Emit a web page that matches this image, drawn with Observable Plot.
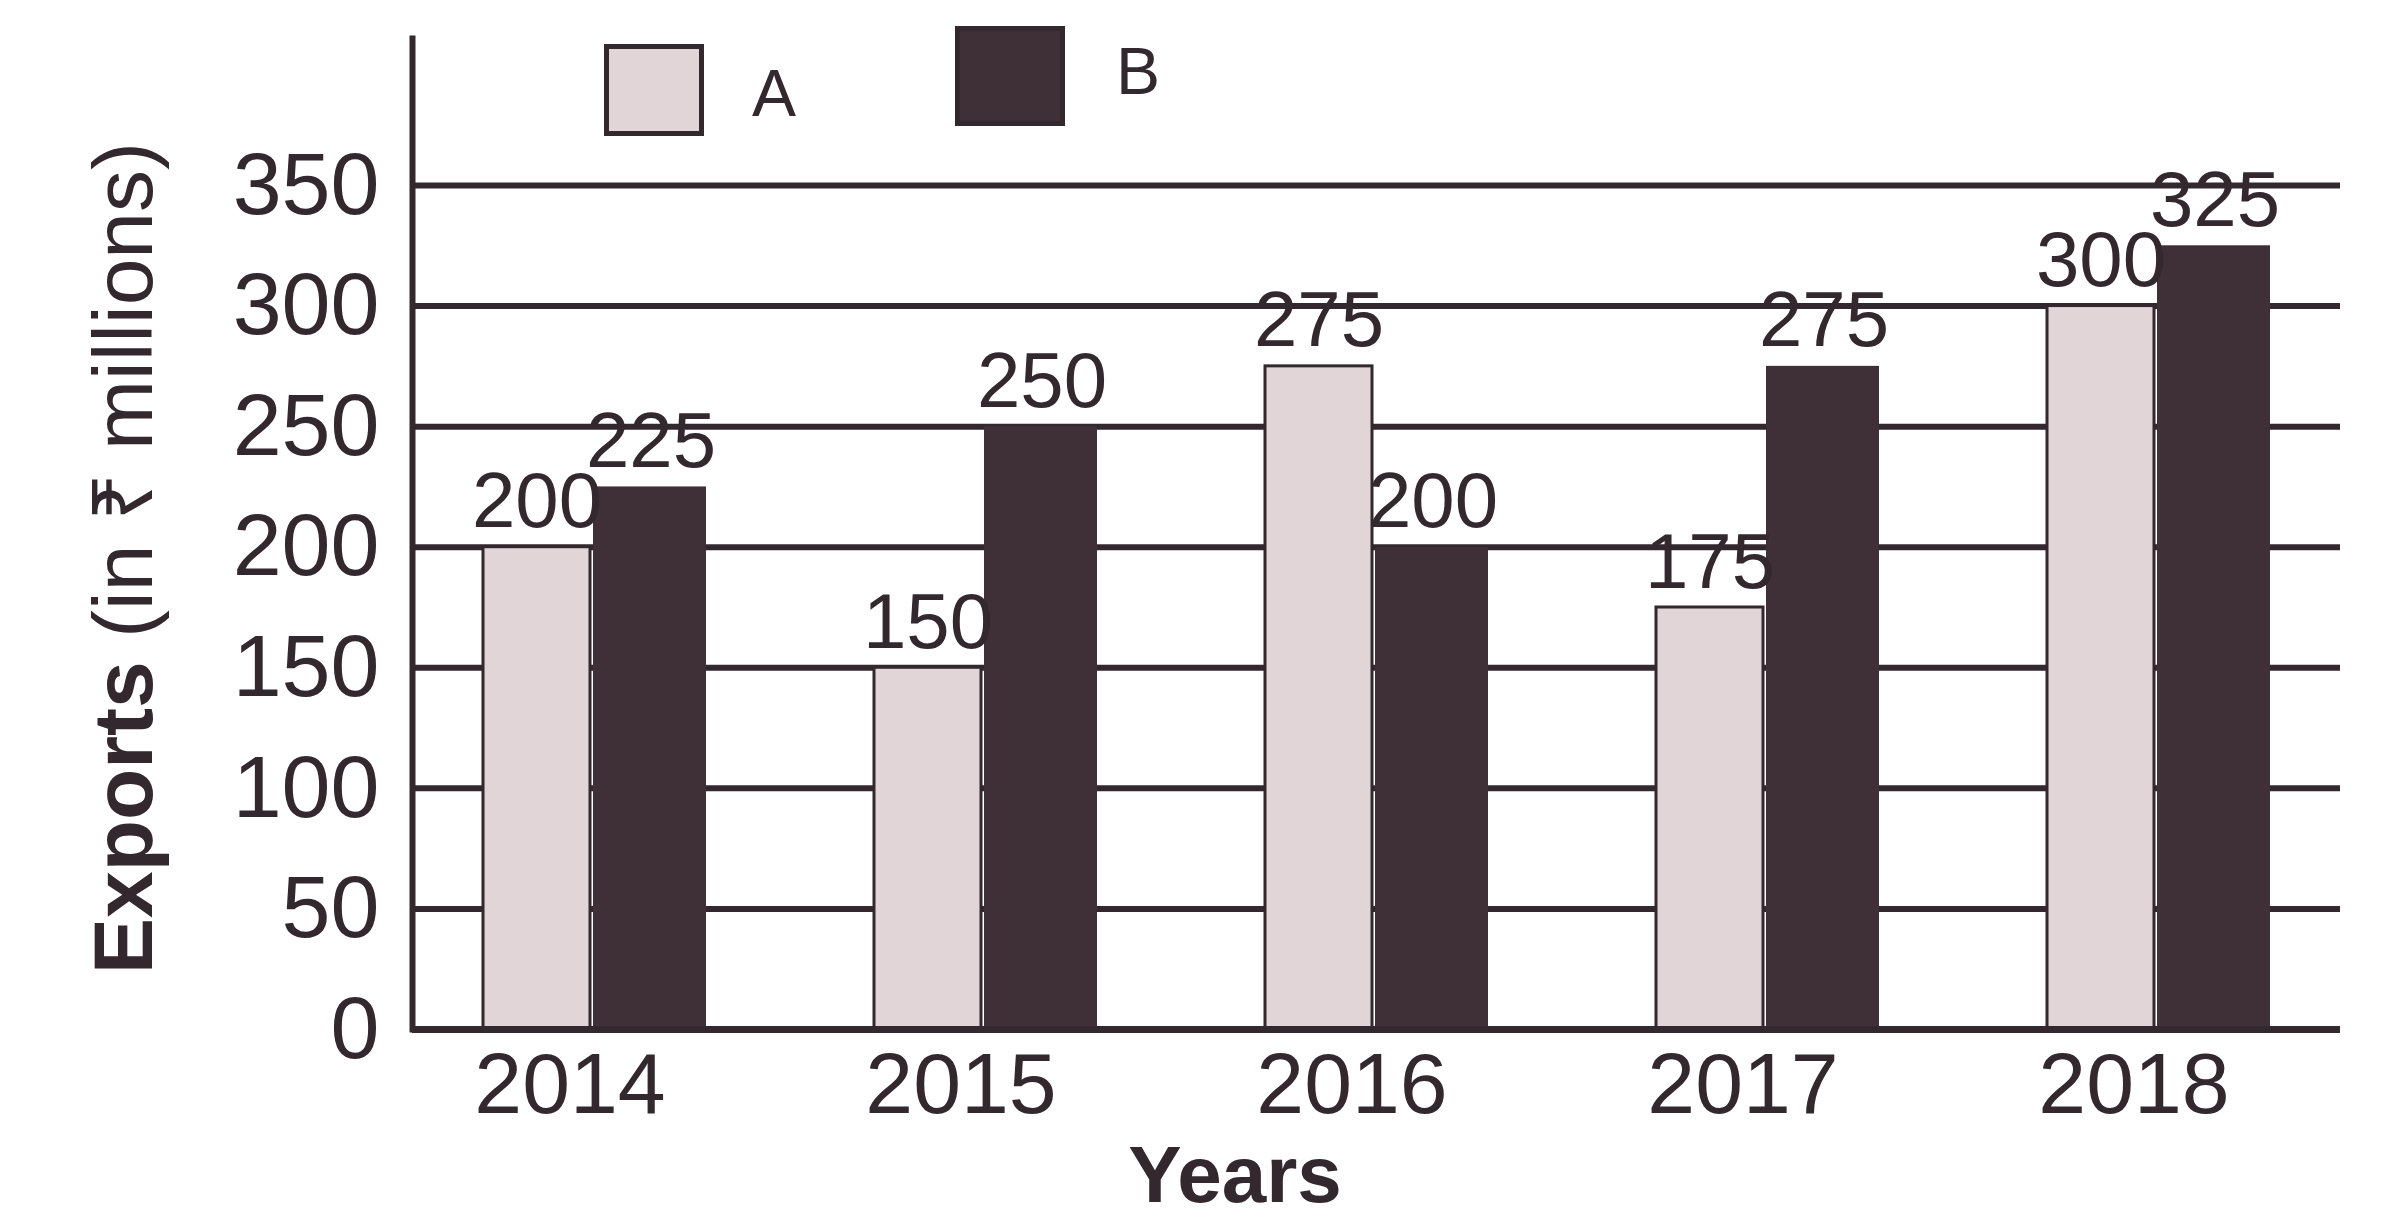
<!DOCTYPE html>
<html><head><meta charset="utf-8">
<script src="https://cdn.jsdelivr.net/npm/d3@7"></script>
<script src="https://cdn.jsdelivr.net/npm/@observablehq/plot@0.6"></script>
<style>
body{margin:0;background:#fff;}
#wrap{position:relative;width:2402px;height:1219px;font-family:"Liberation Sans",Arial,sans-serif;color:#33282d;}
.sw{position:absolute;box-sizing:border-box;}
.lt{position:absolute;font-size:66px;line-height:1;}
</style></head><body><div id="wrap"></div>
<script>
const years = ["2014","2015","2016","2017","2018"];
const seriesNames = ["A","B"];
const valuesA = [200,150,275,175,300];
const valuesB = [225,250,200,275,325];
const yTicks = [0,50,100,150,200,250,300,350];
const yTitleBold = "Exports";
const yTitleRest = " (in ₹ millions)";
const xTitle = "Years";

const rowsA = years.map((year,i)=>({year, series:seriesNames[0], value: valuesA[i]}));
const rowsB = years.map((year,i)=>({year, series:seriesNames[1], value: valuesB[i]}));

const ink = "#33282d";
const fillA = "#e2d5d8";
const fillB = "#3e3036";

const plot = Plot.plot({
  width: 2402, height: 1219,
  marginTop: 185, marginBottom: 190, marginLeft: 412, marginRight: 62,
  style: {fontFamily: "Liberation Sans, Arial, sans-serif", fontSize: "88px", color: ink, background: "#fff", overflow: "visible"},
  x: {domain: years, paddingInner: 0.43, paddingOuter: 0.18, tickSize: 0, tickPadding: 22, label: null},
  y: {domain: [0,350], ticks: yTicks, tickSize: 0, tickPadding: 33, label: null, tickFormat: d=>String(d)},
  marks: [
    Plot.ruleY(yTicks.filter(d=>d>0), {stroke: ink, strokeWidth: 6}),
    Plot.barY(rowsA, {x:"year", y:"value", fill: fillA, stroke: ink, strokeWidth: 3, insetRight: 116}),
    Plot.barY(rowsB, {x:"year", y:"value", fill: fillB, insetLeft: 110}),
    Plot.ruleY([0], {stroke: ink, strokeWidth: 7}),
    Plot.frame({anchor:"left", insetTop: -147, stroke: ink, strokeWidth: 6}),
    Plot.text(rowsA, {x:"year", y:"value", text: d=>String(d.value), dx: -58, dy: -20, lineAnchor:"bottom", fontSize: 78, fill: ink}),
    Plot.text(rowsB, {x:"year", y:"value", text: d=>String(d.value), dx: 56, dy: -20, lineAnchor:"bottom", fontSize: 78, fill: ink})
  ]
});

const wrap = document.getElementById("wrap");
wrap.appendChild(plot);

const svg = d3.select(plot);
// x tick labels: slightly larger and shifted a little left, as in the reference
svg.selectAll('g[aria-label="x-axis tick label"] text').attr("dx", -25).attr("font-size", 86);

const yt = svg.append("text")
  .attr("transform", "translate(152,558) rotate(-90)")
  .attr("text-anchor", "middle")
  .attr("font-size", 84)
  .attr("fill", ink);
yt.append("tspan").attr("font-weight", "bold").text(yTitleBold);
yt.append("tspan").text(yTitleRest);

svg.append("text")
  .attr("x", 1235).attr("y", 1202)
  .attr("text-anchor", "middle")
  .attr("font-size", 80).attr("font-weight", "bold")
  .attr("fill", ink)
  .text(xTitle);

// legend
const legend = [
  {name: seriesNames[0], fill: fillA, left: 604, top: 44, w: 100, h: 92, tx: 752, ty: 60},
  {name: seriesNames[1], fill: fillB, left: 955, top: 26, w: 110, h: 100, tx: 1116, ty: 38}
];
legend.forEach(l => {
  const s = document.createElement("div");
  s.className = "sw";
  Object.assign(s.style, {left: l.left+"px", top: l.top+"px", width: l.w+"px", height: l.h+"px", background: l.fill, border: "5px solid "+ink});
  wrap.appendChild(s);
  const t = document.createElement("div");
  t.className = "lt";
  t.textContent = l.name;
  Object.assign(t.style, {left: l.tx+"px", top: l.ty+"px"});
  wrap.appendChild(t);
});
</script>
</body></html>
